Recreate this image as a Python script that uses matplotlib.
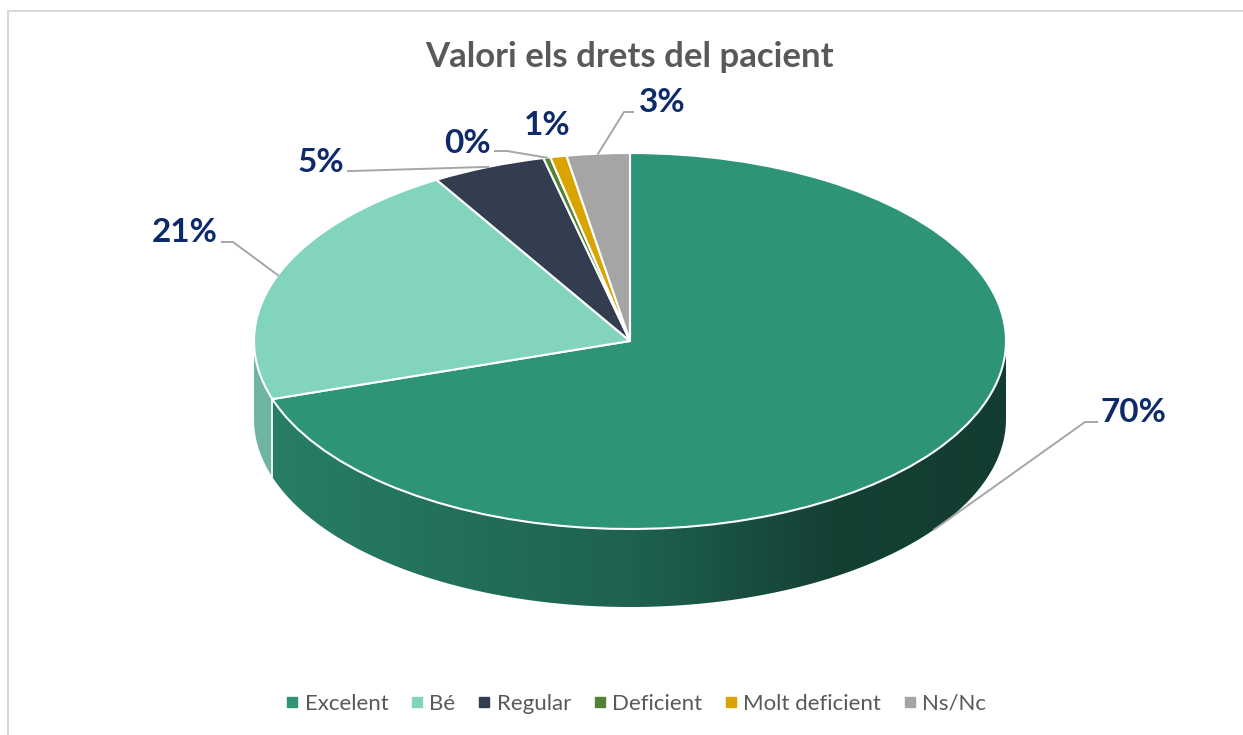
import numpy as np
import matplotlib
matplotlib.use("Agg")
import matplotlib.pyplot as plt
from matplotlib.patches import Polygon
from matplotlib.lines import Line2D

plt.rcParams['font.family'] = ['Lato', 'DejaVu Sans']

# DATA
categories = ['Excelent', 'Bé', 'Regular', 'Deficient', 'Molt deficient', 'Ns/Nc']
values = [70.0, 21.4, 4.9, 0.3, 0.7, 2.7]
colors = ['#2E9478', '#82D4BD', '#323D4F', '#548235', '#D9A400', '#A5A5A5']
title = 'Valori els drets del pacient'

# LAYOUT (figure pixels)
W, H = 1243, 735
cx, cy, rx, ry, depth = 630, 341, 376, 188, 78
d = depth / ry  # depth in pie units
label_color = '#0E2A6B'
text_grey = '#595959'
leader_grey = '#A6A6A6'

fig = plt.figure(figsize=(W / 100, H / 100), dpi=100)

# background axes in pixel coordinates
bg = fig.add_axes([0, 0, 1, 1])
bg.set_xlim(0, W)
bg.set_ylim(H, 0)
bg.axis('off')
bg.plot([8.5, 8.5], [10, H], color='#D9D9D9', lw=1.5, solid_capstyle='butt')
bg.plot([8, W], [10.5, 10.5], color='#D9D9D9', lw=1.5, solid_capstyle='butt')
bg.text(cx, 67, title, ha='center', va='baseline', fontsize=25,
        fontweight='bold', color=text_grey)

# pie axes: circle of radius 1 squashed into an ellipse, extra room for depth
ax = fig.add_axes([(cx - rx) / W, (H - (cy + ry + depth)) / H,
                   2 * rx / W, (2 * ry + depth) / H])
ax.set_zorder(2)
bg.set_zorder(3)
bg.patch.set_alpha(0)

total = sum(values)
fracs = np.array(values) / total
start = 90.0
ends = start - 360 * np.cumsum(fracs)
starts = np.concatenate([[start], ends[:-1]])

# side wall shading: lighter on the left, dark on the right
gx = np.linspace(-1, 1, 400)
gf = np.interp(gx, [-1, 0, 0.55, 1], [0.86, 0.66, 0.43, 0.41])

for a0, a1, c in zip(ends, starts, colors):
    for off in (-360, 0, 360):
        lo = max(a0 + off, 180)
        hi = min(a1 + off, 360)
        if hi <= lo:
            continue
        t = np.radians(np.linspace(lo, hi, 200))
        top = np.column_stack([np.cos(t), np.sin(t)])
        bot = np.column_stack([np.cos(t[::-1]), np.sin(t[::-1]) - d])
        poly = Polygon(np.vstack([top, bot]), closed=True, facecolor='none',
                       edgecolor='none')
        ax.add_patch(poly)
        rgb = np.array(matplotlib.colors.to_rgb(c))
        img = (gf[:, None] * rgb[None, :])[None, :, :]
        im = ax.imshow(img, extent=(-1, 1, -1 - d, 0), aspect='auto',
                       interpolation='bilinear', zorder=1)
        im.set_clip_path(poly)

# white seams between slices on the side wall
for a in ends:
    a = a % 360
    if 180 < a < 360:
        t = np.radians(a)
        ax.plot([np.cos(t), np.cos(t)], [np.sin(t), np.sin(t) - d],
                color='white', lw=1.2, zorder=2)

# top face
wedges, _ = ax.pie(values, colors=colors, startangle=90, counterclock=False,
                   wedgeprops=dict(edgecolor='white', linewidth=1.5, zorder=3))
for w in wedges:
    w.set_clip_on(False)
ax.set_aspect('auto')
ax.set_xlim(-1, 1)
ax.set_ylim(-1 - d, 1)
ax.axis('off')


def to_bg(x, y):
    disp = ax.transData.transform((x, y))
    return bg.transData.inverted().transform(disp)


# data labels: (text x, baseline y, leader start, elbow, on bottom rim)
label_pos = [
    (1133, 422, (1097, 422), (1085, 422), True),
    (185, 242, (222, 242), (233, 242), False),
    (321, 172, (348, 171), (352, 171), False),
    (467, 153, (495, 151), (507, 151), False),
    (547, 135, None, None, False),
    (662, 112, (633, 112), (624, 112), False),
]
for v, s, e, (tx, ty, p0, p1, bottom) in zip(values, starts, ends, label_pos):
    bg.text(tx, ty, f"{v / total * 100:.0f}%", ha='center', va='baseline',
            fontsize=24, fontweight='bold', color=label_color)
    if p0 is None:
        continue
    mid = np.radians((s + e) / 2)
    sx, sy = to_bg(np.cos(mid), np.sin(mid) - (d if bottom else 0))
    bg.plot([p0[0], p1[0], sx], [p0[1], p1[1], sy], color=leader_grey, lw=1.4)

# legend
handles = [Line2D([], [], marker='s', linestyle='', color=c, markersize=6.5)
           for c in colors]
fig.legend(handles, categories, loc='center', ncol=6, frameon=False,
           bbox_to_anchor=(636 / W, 1 - 704 / H), fontsize=16,
           labelcolor=text_grey, handletextpad=0.25, columnspacing=1.0,
           handlelength=0.6)

fig.savefig('out.png', dpi=100)
